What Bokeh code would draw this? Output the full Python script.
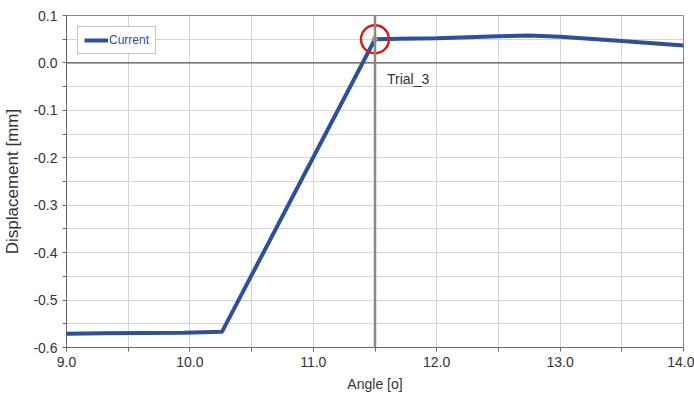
from bokeh.plotting import figure
from bokeh.models import FixedTicker, Span, Legend, LegendItem, Label, CustomJSTickFormatter
from bokeh.embed import file_html
from bokeh.resources import INLINE

angle = [9.0, 9.3, 9.95, 10.26, 11.5, 11.7, 12.0, 12.5, 12.75, 13.0, 13.5, 14.0]
disp = [-0.571, -0.570, -0.569, -0.567, 0.050, 0.051, 0.052, 0.056, 0.058, 0.055, 0.046, 0.037]
x_ticks = [9.0, 10.0, 11.0, 12.0, 13.0, 14.0]
x_minor = [9.5, 10.5, 11.5, 12.5, 13.5]
y_ticks = [-0.6, -0.5, -0.4, -0.3, -0.2, -0.1, 0.0, 0.1]
y_minor = [-0.55, -0.45, -0.35, -0.25, -0.15, -0.05, 0.05]
trial_x = 11.5
trial_y = 0.050
trial_label = "Trial_3"

FONT = "Liberation Sans"
p = figure(width=694, height=403, output_backend="svg", toolbar_location=None,
           x_range=(9.0, 14.0), y_range=(-0.6, 0.1),
           min_border_left=63, min_border_right=11, min_border_top=15, min_border_bottom=56)
p.background_fill_color = "white"
p.border_fill_color = "white"
p.outline_line_color = "#888888"
p.outline_line_width = 1

p.xaxis.ticker = FixedTicker(ticks=x_ticks, minor_ticks=x_minor)
p.yaxis.ticker = FixedTicker(ticks=y_ticks, minor_ticks=y_minor)
p.xaxis.formatter = CustomJSTickFormatter(code="return tick.toFixed(1)")
p.yaxis.formatter = CustomJSTickFormatter(code="return tick.toFixed(1)")

for ax in (p.xaxis[0], p.yaxis[0]):
    ax.axis_line_color = "#666666"
    ax.major_tick_line_color = "#666666"
    ax.minor_tick_line_color = "#666666"
    ax.major_tick_out = 4
    ax.major_tick_in = 0
    ax.minor_tick_out = 4
    ax.minor_tick_in = 0
    ax.major_label_text_font = FONT
    ax.major_label_text_font_size = "14px"
    ax.major_label_text_color = "#333333"
    ax.axis_label_text_font = FONT
    ax.axis_label_text_font_style = "normal"
    ax.axis_label_text_font_size = "14px"
    ax.axis_label_text_color = "#333333"

p.xaxis.axis_label = "Angle [o]"
p.yaxis.axis_label = "Displacement [mm]"
p.yaxis.axis_label_text_font_size = "17px"
p.xaxis.axis_label_standoff = 6
p.yaxis.axis_label_standoff = 8

for g in (p.xgrid[0], p.ygrid[0]):
    g.grid_line_color = "#d4d4d4"
    g.grid_line_width = 1
    g.minor_grid_line_color = "#d4d4d4"
    g.minor_grid_line_width = 1

p.add_layout(Span(location=0, dimension="width", line_color="#555555", line_width=1.2))
p.add_layout(Span(location=trial_x, dimension="height", line_color="#8a8a7a", line_width=2.5))

r = p.line(angle, disp, line_color="#2f4f9a", line_width=4)

p.scatter([trial_x], [trial_y], size=28, marker="circle", fill_color=None,
          line_color="#cc2222", line_width=2.5)
p.scatter([trial_x], [trial_y], size=5, marker="circle", fill_color="#b0b0c8",
          line_color="#808090", line_width=1)
p.add_layout(Label(x=trial_x, y=0.0, text=trial_label, x_offset=12, y_offset=-24,
                   text_font=FONT, text_font_size="14px", text_color="#333333"))

legend = Legend(items=[LegendItem(label="Current", renderers=[r])],
                location="top_left", label_text_font=FONT,
                label_text_font_size="12px",
                label_text_color="#2f4f9a", border_line_color="#888888",
                border_line_width=1, glyph_width=24, glyph_height=14,
                padding=6, margin=11, label_standoff=1, spacing=0,
                background_fill_alpha=1.0)
p.add_layout(legend)

open("out.html", "w").write(file_html(p, INLINE))
